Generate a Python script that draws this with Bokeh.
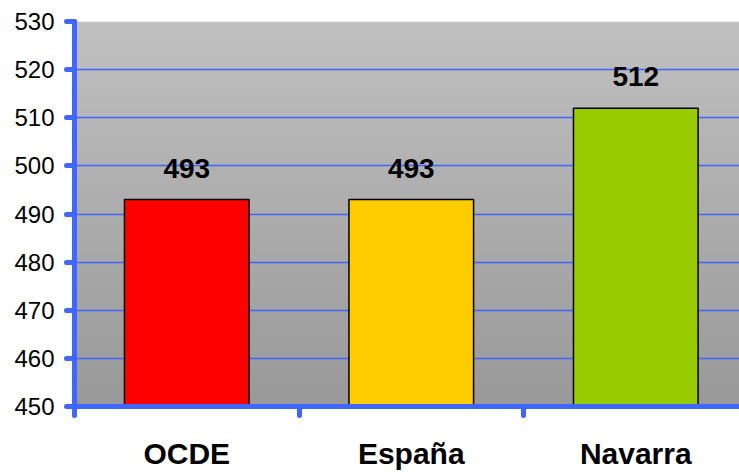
import numpy as np
from bokeh.plotting import figure
from bokeh.models import Range1d, FixedTicker, LabelSet, ColumnDataSource
from bokeh.core.properties import value
from bokeh.embed import file_html
from bokeh.resources import INLINE

categories = ["OCDE", "España", "Navarra"]
scores = [493, 493, 512]
bar_colors = ["#FF0000", "#FFCC00", "#99CC00"]
y_ticks = [450, 460, 470, 480, 490, 500, 510, 520, 530]
y_min, y_max = 450, 530

x_pos = [i + 0.5 for i in range(len(categories))]
x_bounds = list(range(len(categories) + 1))

BLUE = "#3F66FF"
FONT = "Liberation Sans"

p = figure(width=739, height=472, output_backend="svg", toolbar_location=None,
           title=None,
           x_range=Range1d(0, 2.962), y_range=Range1d(y_min, y_max),
           min_border_left=74, min_border_right=0, min_border_top=21,
           min_border_bottom=66)
p.outline_line_color = None
p.background_fill_color = "white"
p.border_fill_color = "white"

# gradient background of plot area
N = 200
img = np.empty((N, 1), dtype=np.uint32)
view = img.view(dtype=np.uint8).reshape((N, 1, 4))
g = np.linspace(153, 193, N).astype(np.uint8)
view[:, 0, 0] = g
view[:, 0, 1] = g
view[:, 0, 2] = g
view[:, 0, 3] = 255
p.image_rgba(image=[img], x=0, y=y_min, dw=3, dh=y_max - y_min, level="image")

src = ColumnDataSource(dict(x=x_pos, top=scores, color=bar_colors,
                            label=[str(s) for s in scores]))

p.vbar(x="x", top="top", bottom=y_min, width=0.555, fill_color="color",
       line_color="black", line_width=1.5, source=src)

# grid
p.xgrid.visible = False
p.ygrid.ticker = FixedTicker(ticks=y_ticks)
p.ygrid.grid_line_color = BLUE
p.ygrid.grid_line_width = 1.6

# y axis
ya = p.yaxis[0]
ya.ticker = FixedTicker(ticks=y_ticks)
ya.axis_line_color = BLUE
ya.axis_line_width = 5
ya.axis_line_cap = "round"
ya.major_tick_line_color = BLUE
ya.major_tick_line_width = 5
ya.major_tick_line_cap = "round"
ya.major_tick_in = 0
ya.major_tick_out = 8
ya.minor_tick_line_color = None
ya.major_label_text_font = FONT
ya.major_label_text_font_size = "24px"
ya.major_label_text_color = "black"
ya.major_label_standoff = 12

# x axis: labels at category centres, ticks (minor) at category boundaries
xa = p.xaxis[0]
xa.ticker = FixedTicker(ticks=x_pos, minor_ticks=x_bounds)
xa.major_label_overrides = {x: c for x, c in zip(x_pos, categories)}
xa.axis_line_color = BLUE
xa.axis_line_width = 5
xa.major_tick_line_color = None
xa.major_tick_in = 0
xa.major_tick_out = 0
xa.minor_tick_line_color = BLUE
xa.minor_tick_line_width = 5
xa.minor_tick_line_cap = "round"
xa.minor_tick_in = 0
xa.minor_tick_out = 9
xa.major_label_text_font = FONT
xa.major_label_text_font_style = "bold"
xa.major_label_text_font_size = "30px"
xa.major_label_text_color = "black"
xa.major_label_standoff = 21

# value labels above bars
p.add_layout(LabelSet(x="x", y="top", text="label", source=src,
                      text_font=value(FONT), text_font_style="bold",
                      text_font_size="28px", text_color="black",
                      text_align="center", text_baseline="alphabetic",
                      y_offset=22))

open("out.html", "w").write(file_html(p, INLINE))
